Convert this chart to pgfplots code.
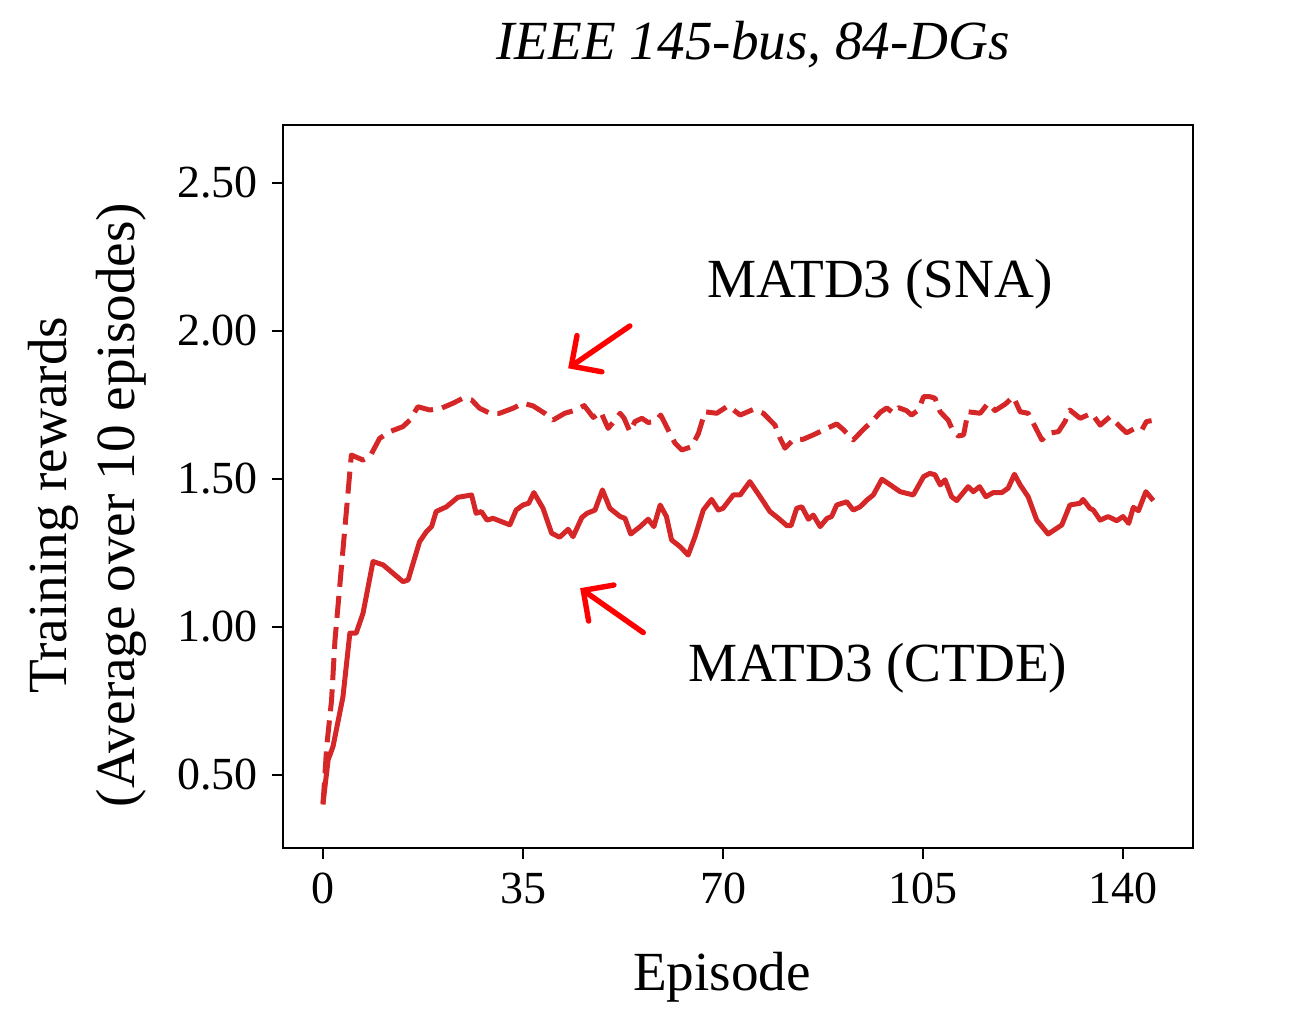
\documentclass[border=0pt]{standalone}
\usepackage{pgfplots}
\pgfplotsset{compat=1.18}
\usepackage{fontspec}
\setmainfont{Liberation Serif}
\usetikzlibrary{arrows.meta}
\definecolor{tabred}{RGB}{214,39,40}
\definecolor{arrred}{RGB}{255,0,0}
\begin{document}
\begin{tikzpicture}
\begin{axis}[
  scale only axis,
  width=227.5pt, height=180.75pt,
  xmin=-7, xmax=152.25, ymin=0.253, ymax=2.696,
  xtick={0,35,70,105,140},
  ytick={0.5,1,1.5,2,2.5},
  tick align=outside,
  major tick length=2.8pt,
  tick pos=left,
  axis line style={line width=0.7pt},
  every tick/.style={line width=0.7pt, black},
  tick label style={font=\fontsize{11.5}{13}\selectfont},
  /pgf/number format/assume math mode=true,
  yticklabel style={/pgf/number format/.cd, fixed, fixed zerofill, precision=2},
  xticklabel style={/pgf/number format/.cd, fixed, precision=0},
  scaled ticks=false,
  clip=false,
]
\addplot[tabred, line width=1.25pt, line join=round] coordinates {
(0,0.404) (0.9,0.551) (1.75,0.596) (3.5,0.765) (4.7,0.979) (5.8,0.979) (7,1.046)
(8.75,1.221) (10.5,1.21) (14,1.153) (14.9,1.159) (16.9,1.288) (18.1,1.322) (19,1.339)
(19.8,1.39) (21.6,1.406) (23.6,1.438) (26,1.446) (26.8,1.384) (27.7,1.39) (28.7,1.361)
(29.75,1.367) (32.7,1.345) (33.8,1.395) (35,1.412) (36,1.418) (36.9,1.454) (38.5,1.401)
(40,1.317) (41.4,1.303) (42.9,1.33) (43.75,1.305) (45.3,1.37) (46.2,1.384) (47.6,1.395)
(48.9,1.463) (50.2,1.401) (52,1.373) (52.85,1.367) (53.85,1.314) (55.5,1.339) (56.9,1.364)
(57.9,1.339) (59,1.412) (60.1,1.373) (61,1.294) (62.5,1.271) (63.9,1.243) (65.1,1.305)
(66.55,1.395) (68,1.431) (69.2,1.395) (70,1.401) (71.8,1.446) (73,1.446) (74.7,1.491)
(76.5,1.44) (78.2,1.39) (79.7,1.367) (81.2,1.342) (81.9,1.342) (82.9,1.401) (83.8,1.406)
(84.95,1.364) (85.8,1.378) (87,1.339) (88.2,1.367) (89,1.373) (89.9,1.412) (91.65,1.423)
(92.8,1.395) (94,1.406) (95.2,1.429) (96.3,1.446) (97.8,1.499) (98.9,1.485) (101,1.457)
(103.3,1.446) (105.1,1.508) (106.2,1.519) (107.1,1.514) (108,1.48) (108.85,1.497) (110,1.44)
(110.9,1.427) (112.9,1.474) (113.8,1.457) (114.9,1.474) (116,1.44) (117.3,1.454) (118.8,1.454)
(119.9,1.469) (121,1.516) (122,1.48) (123.4,1.44) (124.9,1.361) (126.9,1.314) (129.3,1.345)
(130.7,1.412) (132.5,1.418) (133,1.431) (134.2,1.401) (134.8,1.395) (136,1.361) (137.4,1.373)
(138.9,1.359) (140,1.373) (141,1.35) (141.8,1.404) (142.7,1.393) (144,1.457) (145.3,1.427)
};
\addplot[tabred, line width=1.25pt, line join=round, dash pattern=on 5.5pt off 2.3pt] coordinates {
(0,0.40) (0.65,0.596) (1.5,0.753) (2.1,0.956) (4.96,1.581) (7,1.564) (8.2,1.575)
(9.9,1.637) (11.7,1.66) (14,1.677) (15.2,1.699) (16.6,1.744) (18.7,1.733) (20.7,1.739)
(22.75,1.756) (24.5,1.773) (26,1.767) (27.4,1.739) (29.2,1.722) (30.9,1.722) (33.25,1.739)
(35,1.756) (36.75,1.747) (38.8,1.722) (40.25,1.699) (42.3,1.722) (44.3,1.733) (45.7,1.748)
(47.3,1.708) (48.6,1.727) (49.9,1.671) (51.1,1.699) (52,1.722) (52.7,1.705) (53.7,1.66)
(54.6,1.694) (55.8,1.705) (56.9,1.691) (58.1,1.694) (59.1,1.716) (60.4,1.666) (61.6,1.621)
(62.8,1.598) (64.5,1.609) (65.7,1.654) (66.85,1.727) (68.9,1.722) (70.9,1.747) (73,1.716)
(75.3,1.735) (77.05,1.722) (79.1,1.682) (80,1.637) (80.85,1.604) (82.3,1.632) (84,1.634)
(85.8,1.649) (88.2,1.671) (89.9,1.686) (91.1,1.666) (92.8,1.632) (94.6,1.668) (96.3,1.699)
(97.5,1.725) (98.65,1.740) (99.8,1.723) (100.7,1.741) (102.1,1.731) (103,1.716) (104.2,1.733)
(105.1,1.778) (106.2,1.778) (107.1,1.773) (108,1.727) (109.4,1.699) (110.3,1.66) (111.2,1.645)
(112.1,1.649) (112.9,1.727) (115,1.722) (116.4,1.756) (117.6,1.731) (119.4,1.753) (120.8,1.778)
(122,1.727) (123.4,1.722) (124.6,1.677) (125.8,1.632) (126.9,1.654) (128.7,1.66) (129.85,1.694)
(130.7,1.733) (132.5,1.705) (134.5,1.722) (136,1.682) (137.7,1.71) (139.2,1.682) (140.6,1.656)
(142.1,1.671) (143.3,1.666) (144.1,1.694) (145,1.697)
};
\draw[arrred, line width=1.35pt, line cap=round, -{Straight Barb[length=5.5pt,width=11pt,line cap=round]}]
  (axis cs:53.7,2.017) -- (axis cs:42.9,1.874);
\draw[arrred, line width=1.35pt, line cap=round, -{Straight Barb[length=5.5pt,width=11pt,line cap=round]}]
  (axis cs:56.05,0.981) -- (axis cs:45.0,1.131);
\end{axis}
\node[font=\fontsize{13.8}{17}\selectfont\itshape] at (117.6pt,200.75pt) {IEEE 145-bus, 84-DGs};
\node[font=\fontsize{13.8}{17}\selectfont, anchor=base] at (149.25pt,137.75pt) {MATD3 (SNA)};
\node[font=\fontsize{13.8}{17}\selectfont, anchor=base] at (148.75pt,41.6pt) {MATD3 (CTDE)};
\node[font=\fontsize{13.8}{17}\selectfont, anchor=base] at (109.75pt,-35.5pt) {Episode};
\node[font=\fontsize{13.8}{17}\selectfont, rotate=90, align=center] at (-49pt,85.75pt) {Training rewards\\(Average over 10 episodes)};
\pgfresetboundingbox
\path[use as bounding box] (-70.75pt,-46.25pt) rectangle (257.5pt,212pt);
\end{tikzpicture}
\end{document}
